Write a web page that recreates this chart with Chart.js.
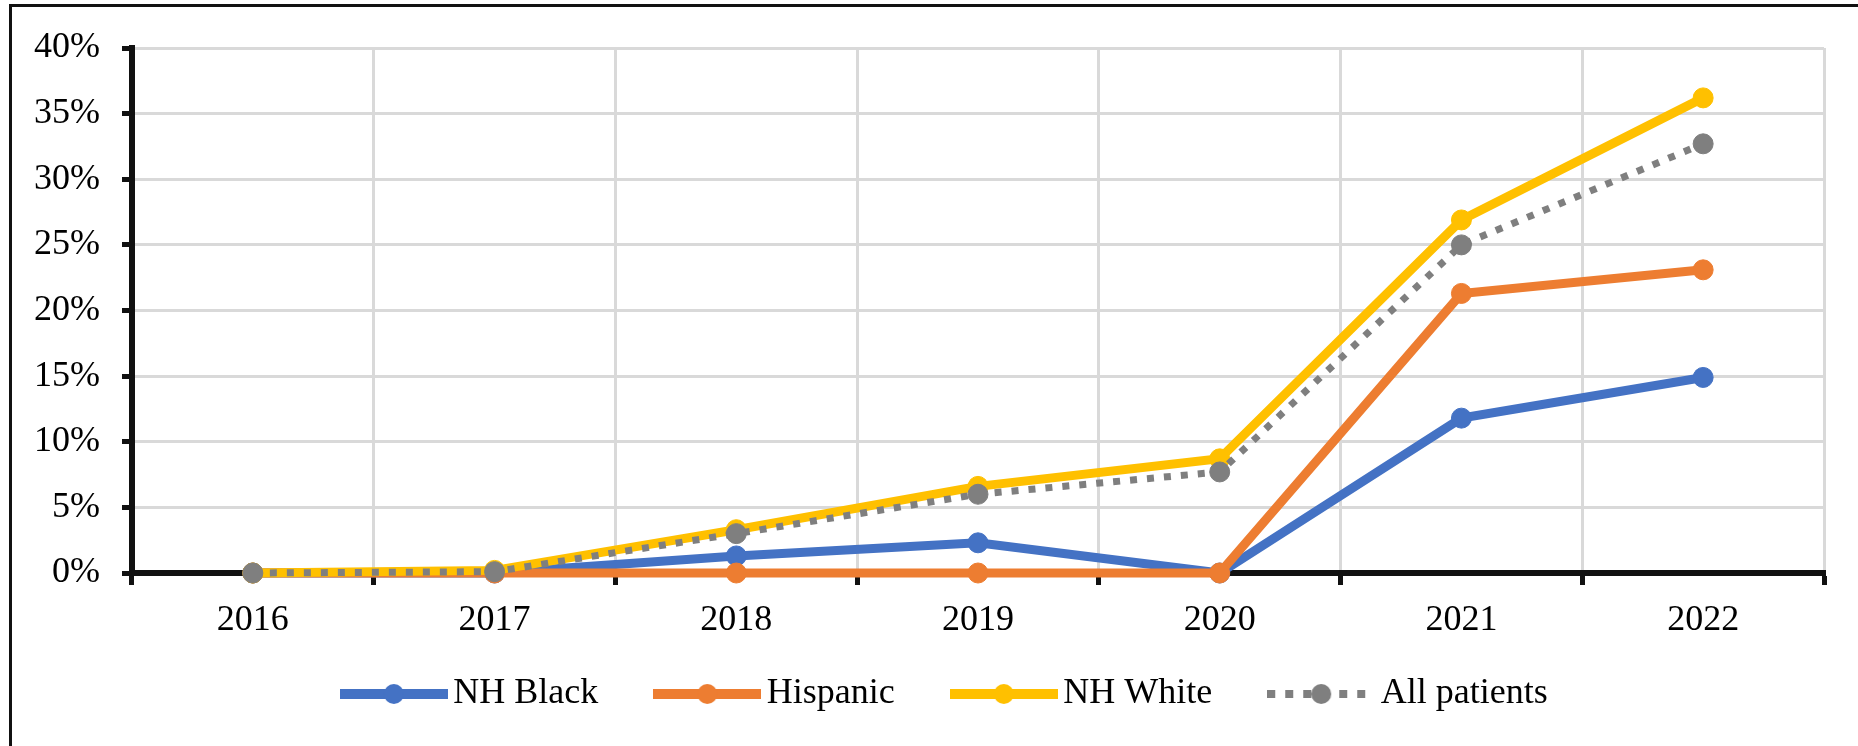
<!DOCTYPE html>
<html>
<head>
<meta charset="utf-8">
<title>Share of patients by year</title>
<script src="https://cdn.jsdelivr.net/npm/chart.js@4.4.1/dist/chart.umd.min.js"></script>
<style>
    html, body { margin: 0; padding: 0; background: #fff; overflow: hidden; }
    .chart-container { position: relative; width: 1858px; height: 746px; }
    .frame {
        position: absolute; left: 9px; top: 4px;
        width: 2000px; height: 1000px;
        border: 3px solid #111; pointer-events: none;
    }
    #trendChart { position: absolute; left: 0; top: 0; }
</style>
</head>
<body>
<div class="chart-container">
    <canvas id="trendChart" width="1858" height="746"></canvas>
    <div class="frame"></div>
</div>
<script>
const years = ['2016', '2017', '2018', '2019', '2020', '2021', '2022'];
const yTickLabels = ['0%', '5%', '10%', '15%', '20%', '25%', '30%', '35%', '40%'];

// percent of patients per year
const nhBlack = [0, 0, 1.3, 2.3, 0, 11.8, 14.9];
const hispanic = [0, 0, 0, 0, 0, 21.3, 23.1];
const nhWhite = [0, 0.2, 3.3, 6.6, 8.7, 26.9, 36.2];
const allPatients = [0, 0.1, 3.0, 6.0, 7.7, 25.0, 32.7];

const seriesNames = ['NH Black', 'Hispanic', 'NH White', 'All patients'];
const seriesColors = ['#4472C4', '#ED7D31', '#FFC000', '#7F7F7F'];

const FONT = { family: '"Liberation Serif", "Times New Roman", serif', size: 36 };
const GRID = '#d9d9d9';
const AXIS = '#111';
const LEGEND_PAD = 67.5;
const LEGEND_CENTER_X = 950;
const LEGEND_CENTER_Y = 694;

// little line + marker picture used as the legend symbol
function legendSwatch(color, dotted) {
    const c = document.createElement('canvas');
    c.width = 108;
    c.height = 24;
    const g = c.getContext('2d');
    g.strokeStyle = color;
    g.fillStyle = color;
    g.lineWidth = dotted ? 8 : 10;
    if (dotted) g.setLineDash([8, 10]);
    g.beginPath();
    g.moveTo(0, 12);
    g.lineTo(108, 12);
    g.stroke();
    g.setLineDash([]);
    g.beginPath();
    g.arc(54, 12, 10, 0, Math.PI * 2);
    g.fill();
    return c;
}

function lineSeries(i, data, extra) {
    return Object.assign({
        label: seriesNames[i],
        data: data,
        borderColor: seriesColors[i],
        backgroundColor: seriesColors[i],
        pointBackgroundColor: seriesColors[i],
        pointBorderColor: seriesColors[i],
        borderWidth: 9,
        pointRadius: 10,
        pointBorderWidth: 1,
        tension: 0,
        clip: false,
        order: 4 - i
    }, extra || {});
}

const swatches = seriesColors.map((c, i) => legendSwatch(c, i === 3));

// the legend row sits a bit right of the canvas middle and close under the year labels
const legendPlacement = {
    id: 'legendPlacement',
    afterLayout(chart) {
        const lg = chart.legend;
        if (!lg) return;
        const dx = LEGEND_CENTER_X - (lg.left + lg.right) / 2;
        lg.left += dx;
        lg.right += dx;
        lg.top = LEGEND_CENTER_Y - LEGEND_PAD - FONT.size / 2;
    }
};

new Chart(document.getElementById('trendChart'), {
    type: 'line',
    data: {
        labels: years,
        datasets: [
            lineSeries(0, nhBlack),
            lineSeries(1, hispanic),
            lineSeries(2, nhWhite),
            lineSeries(3, allPatients, { borderWidth: 7, borderDash: [7, 10], borderCapStyle: 'butt' })
        ]
    },
    plugins: [legendPlacement],
    options: {
        responsive: false,
        animation: false,
        devicePixelRatio: 1,
        layout: { padding: { left: 30, right: 34, top: 48, bottom: 33 } },
        plugins: {
            tooltip: { enabled: false },
            legend: {
                position: 'bottom',
                align: 'center',
                maxHeight: 70,
                labels: {
                    font: FONT,
                    color: '#000',
                    usePointStyle: true,
                    pointStyleWidth: 83,
                    padding: LEGEND_PAD,
                    sort: (a, b) => a.datasetIndex - b.datasetIndex,
                    generateLabels: chart => Chart.defaults.plugins.legend.labels
                        .generateLabels(chart)
                        .map(item => Object.assign(item, { pointStyle: swatches[item.datasetIndex] }))
                }
            }
        },
        scales: {
            x: {
                offset: true,
                grid: {
                    offset: true,
                    color: ctx => ctx.index === 0 ? 'rgba(0,0,0,0)' : GRID,
                    lineWidth: 3,
                    tickColor: AXIS,
                    tickWidth: 5,
                    tickLength: 12
                },
                border: { display: true, color: AXIS, width: 6 },
                ticks: { font: FONT, color: '#000', padding: 14, maxRotation: 0 },
                afterFit: scale => { scale.height = 70; }
            },
            y: {
                min: 0,
                max: 40,
                grid: {
                    color: ctx => ctx.index === 0 ? 'rgba(0,0,0,0)' : GRID,
                    lineWidth: 3,
                    tickColor: AXIS,
                    tickWidth: 5,
                    tickLength: 10
                },
                border: { display: true, color: AXIS, width: 6 },
                ticks: {
                    stepSize: 5,
                    font: FONT,
                    color: '#000',
                    padding: 22,
                    callback: (value, index) => yTickLabels[index]
                },
                afterFit: scale => { scale.width = 102; }
            }
        }
    }
});
</script>
</body>
</html>
